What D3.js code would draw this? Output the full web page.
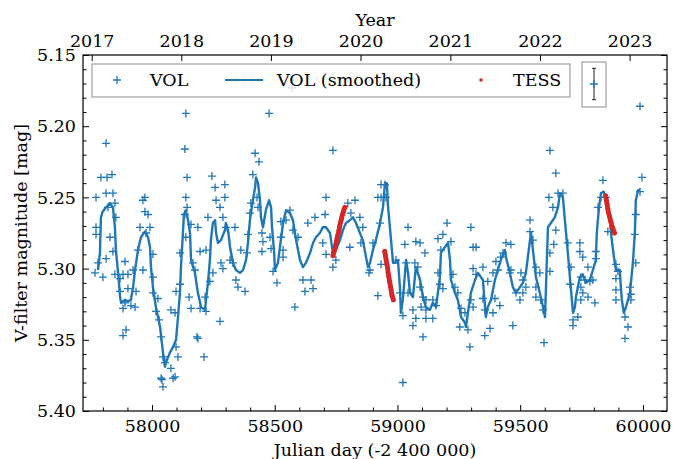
<!DOCTYPE html>
<html>
<head>
<meta charset="utf-8">
<script src="https://cdn.jsdelivr.net/npm/d3@7"></script>
<style>
  body { margin: 0; background: #fff; }
  text { font-family: "DejaVu Serif", serif; fill: #000; }
</style>
</head>
<body>
<div id="chart"></div>
<script>
// VOL observations [Julian day - 2400000, V mag]
const volPoints = [
  [57813,5.212],[57792,5.236],[57817,5.236],[57837,5.234],[57772,5.250],[57813,5.247],[57841,5.247],
  [57849,5.254],[57821,5.257],[57853,5.264],[57772,5.271],[57772,5.276],[57829,5.278],[57841,5.288],
  [57813,5.293],[57780,5.296],[57768,5.303],[57800,5.306],[57849,5.304],[57890,5.295],[57882,5.304],
  [57902,5.304],[57870,5.307],[57923,5.301],[57963,5.301],[57943,5.287],[57951,5.271],[57963,5.252],
  [57971,5.250],[57971,5.260],[57984,5.262],[57992,5.271],[57976,5.275],[58004,5.290],[58004,5.306],
  [57902,5.314],[57935,5.316],[57870,5.316],[57890,5.324],[57914,5.326],[57931,5.327],[57882,5.328],
  [58004,5.317],[58024,5.321],[58016,5.330],[58029,5.336],[58037,5.348],[57894,5.343],[57882,5.347],
  [58045,5.362],[58053,5.366],[58037,5.377],[58045,5.383],[58077,5.329],[58094,5.331],[58098,5.316],
  [58114,5.311],[58098,5.355],[58106,5.362],[58077,5.370],[58094,5.376],[58114,5.289],[58086,5.377],
  [58041,5.378],
  [58138,5.191],[58134,5.216],[58143,5.236],[58138,5.250],[58143,5.257],[58134,5.262],[58159,5.269],
  [58187,5.271],[58138,5.278],[58196,5.288],[58167,5.296],[58175,5.301],[58151,5.320],[58159,5.328],
  [58196,5.328],[58220,5.330],[58216,5.320],[58277,5.337],[58183,5.348],[58187,5.349],[58212,5.362],
  [58244,5.235],[58257,5.243],[58261,5.252],[58277,5.257],[58289,5.264],[58228,5.264],[58297,5.241],
  [58297,5.250],[58301,5.271],[58338,5.271],[58220,5.287],[58248,5.303],[58236,5.309],[58281,5.296],
  [58289,5.300],[58318,5.294],[58330,5.296],[58342,5.308],[58350,5.313],[58379,5.316],[58362,5.287],
  [58387,5.289],[58391,5.276],[58399,5.261],[58403,5.254],[58420,5.219],[58436,5.225],[58411,5.234],
  [58428,5.250],[58432,5.257],[58448,5.275],[58448,5.288],[58452,5.281],[58481,5.278],[58485,5.286],
  [58493,5.302],[58509,5.310],[58477,5.191],[58525,5.267],[58525,5.278],[58534,5.287],
  [58737,5.217],[58709,5.250],[58664,5.264],[58562,5.259],[58546,5.266],[58574,5.273],[58595,5.278],
  [58635,5.268],[58705,5.262],[58696,5.282],[58709,5.290],[58749,5.294],[58737,5.299],[58806,5.285],
  [58615,5.308],[58648,5.308],[58623,5.316],[58656,5.314],[58582,5.327],[58534,5.292],[58798,5.254],
  [58827,5.252],[58810,5.261],[58847,5.264],[58859,5.271],[58851,5.282],[58888,5.301],[58884,5.303],
  [58900,5.282],[58920,5.250],[58933,5.250],[58933,5.241],[58929,5.268],[58920,5.319],[58933,5.297],
  [58570,5.173],
  [58949,5.241],[58953,5.250],[59043,5.271],[59030,5.283],[59075,5.281],[59092,5.282],[59112,5.289],
  [58994,5.294],[59035,5.296],[59071,5.296],[59083,5.299],[59010,5.317],[59043,5.317],[59092,5.313],
  [59104,5.320],[59116,5.322],[59144,5.322],[59157,5.326],[59096,5.327],[59116,5.329],[59063,5.329],
  [59075,5.335],[59063,5.340],[59022,5.333],[59116,5.335],[59144,5.335],[59104,5.348],[59022,5.380],
  [59165,5.279],[59185,5.276],[59202,5.268],[59218,5.281],[59177,5.287],[59165,5.303],[59173,5.311],
  [59185,5.314],[59226,5.304],[59234,5.313],[59246,5.317],[59259,5.328],[59275,5.331],[59254,5.341],
  [59287,5.343],[59295,5.355],[59299,5.271],[59308,5.285],[59320,5.285],[59308,5.300],[59320,5.304],
  [59308,5.327],[59299,5.322],[59348,5.299],
  [59368,5.309],[59348,5.321],[59356,5.329],[59401,5.295],[59389,5.303],[59409,5.301],[59421,5.292],
  [59442,5.282],[59462,5.283],[59430,5.289],[59397,5.321],[59417,5.326],[59389,5.331],[59377,5.342],
  [59356,5.347],[59462,5.301],[59458,5.303],[59483,5.317],[59499,5.322],[59511,5.317],[59503,5.303],
  [59511,5.308],[59523,5.313],[59470,5.340],[59540,5.266],[59540,5.274],[59552,5.280],[59564,5.299],
  [59580,5.303],[59564,5.313],[59564,5.320],[59584,5.322],[59593,5.329],[59597,5.352],[59621,5.217],
  [59645,5.233],[59617,5.250],[59633,5.257],[59645,5.273],[59637,5.283],[59621,5.289],[59621,5.302],
  [59654,5.247],[59674,5.247],[59694,5.282],[59707,5.299],[59703,5.311],[59715,5.336],[59715,5.340],
  [59735,5.334],[59743,5.282],[59743,5.288],[59747,5.306],[59747,5.313],[59747,5.322],
  [59988,5.186],[59996,5.236],[59837,5.238],[59829,5.250],[59849,5.250],[59817,5.257],[59857,5.274],
  [59988,5.246],[59971,5.262],[59967,5.276],[59971,5.296],[59808,5.288],[59808,5.293],[59755,5.292],
  [59776,5.299],[59764,5.308],[59784,5.309],[59796,5.308],[59890,5.297],[59898,5.302],[59890,5.307],
  [59890,5.315],[59890,5.322],[59947,5.313],[59951,5.318],[59951,5.322],[59927,5.334],[59939,5.341],
  [59927,5.349],[59776,5.320],[59804,5.324],[59755,5.317]
];

// smoothed VOL curve
const smoothed = [
  [57780,5.301],[57788,5.289],[57792,5.264],[57799,5.260],[57813,5.257],[57829,5.254],[57841,5.257],
  [57849,5.271],[57853,5.287],[57862,5.303],[57870,5.320],[57874,5.324],[57890,5.322],[57902,5.323],
  [57914,5.322],[57923,5.313],[57931,5.301],[57943,5.287],[57955,5.278],[57971,5.274],[57984,5.278],
  [57992,5.285],[57996,5.299],[58004,5.313],[58016,5.327],[58033,5.341],[58045,5.359],[58053,5.369],
  [58057,5.366],[58073,5.359],[58086,5.355],[58098,5.350],[58106,5.334],[58114,5.317],[58118,5.299],
  [58126,5.275],[58130,5.262],[58138,5.259],[58147,5.266],[58155,5.275],[58159,5.294],[58175,5.303],
  [58187,5.317],[58200,5.327],[58216,5.329],[58220,5.322],[58228,5.310],[58236,5.294],[58240,5.280],
  [58248,5.268],[58257,5.266],[58261,5.275],[58269,5.282],[58281,5.280],[58297,5.273],[58301,5.268],
  [58310,5.273],[58318,5.285],[58330,5.296],[58342,5.301],[58358,5.303],[58371,5.301],[58383,5.294],
  [58391,5.282],[58399,5.266],[58411,5.252],[58420,5.243],[58424,5.236],[58432,5.240],[58440,5.252],
  [58444,5.264],[58452,5.271],[58464,5.259],[58477,5.252],[58485,5.257],[58489,5.271],[58497,5.287],
  [58501,5.301],[58513,5.296],[58525,5.280],[58534,5.268],[58546,5.259],[58562,5.261],[58574,5.266],
  [58587,5.280],[58603,5.294],[58615,5.299],[58627,5.296],[58644,5.289],[58656,5.282],[58668,5.278],
  [58684,5.275],[58696,5.271],[58709,5.271],[58725,5.275],[58737,5.289],[58749,5.287],[58766,5.280],
  [58778,5.273],[58790,5.268],[58806,5.266],[58819,5.264],[58831,5.268],[58847,5.275],[58859,5.280],
  [58872,5.292],[58880,5.299],[58888,5.296],[58900,5.287],[58912,5.280],[58929,5.268],[58941,5.257],
  [58949,5.240],[58957,5.240],[58961,5.255],[58982,5.296],[58990,5.296],[59002,5.294],[59010,5.313],
  [59014,5.331],[59022,5.322],[59035,5.294],[59043,5.303],[59051,5.317],[59063,5.320],[59071,5.306],
  [59075,5.299],[59092,5.308],[59104,5.320],[59116,5.327],[59132,5.329],[59144,5.324],[59157,5.327],
  [59173,5.306],[59177,5.289],[59193,5.285],[59206,5.282],[59214,5.294],[59218,5.308],[59234,5.317],
  [59246,5.322],[59259,5.334],[59275,5.338],[59279,5.341],[59287,5.331],[59299,5.317],[59316,5.308],
  [59328,5.303],[59348,5.308],[59360,5.334],[59368,5.327],[59381,5.322],[59397,5.308],[59409,5.301],
  [59421,5.294],[59438,5.287],[59442,5.292],[59458,5.303],[59470,5.313],[59483,5.317],[59499,5.313],
  [59511,5.310],[59523,5.303],[59540,5.280],[59544,5.275],[59552,5.287],[59564,5.306],[59580,5.317],
  [59593,5.327],[59601,5.334],[59605,5.313],[59613,5.271],[59625,5.268],[59641,5.264],[59654,5.257],
  [59662,5.247],[59674,5.250],[59682,5.266],[59694,5.289],[59707,5.315],[59715,5.331],[59723,5.327],
  [59727,5.320],[59743,5.306],[59755,5.304],[59768,5.310],[59784,5.308],[59796,5.301],[59808,5.294],
  [59812,5.275],[59821,5.257],[59829,5.247],[59841,5.246],[59849,5.252],[59865,5.266],[59873,5.280],
  [59882,5.292],[59890,5.301],[59906,5.301],[59910,5.313],[59914,5.322],[59922,5.331],[59931,5.327],
  [59947,5.317],[59959,5.296],[59967,5.275],[59971,5.252],[59980,5.245],[59988,5.245]
];

// TESS sectors
const tessA = [
  [58737,5.291],[58740,5.289],[58744,5.287],[58748,5.284],[58751,5.281],[58755,5.278],[58758,5.276],
  [58762,5.273],[58765,5.270],[58769,5.267],[58772,5.265],[58776,5.262],[58780,5.260],[58783,5.258],[58786,5.257]
];
const tessB = [
  [58948,5.288],[58951,5.291],[58954,5.294],[58957,5.297],[58960,5.300],[58962,5.303],[58965,5.306],
  [58968,5.309],[58971,5.312],[58974,5.315],[58977,5.318],[58980,5.320],[58983,5.322]
];
const tessC = [
  [59848,5.249],[59851,5.252],[59854,5.255],[59857,5.258],[59860,5.261],[59863,5.263],[59866,5.265],
  [59869,5.267],[59872,5.269],[59875,5.271],[59878,5.272],[59881,5.274],[59884,5.275]
];

const dayTicks = [58000, 58500, 59000, 59500, 60000];
const magTicks = [5.15, 5.20, 5.25, 5.30, 5.35, 5.40];
const yearLabels = ["2017", "2018", "2019", "2020", "2021", "2022", "2023"];
const yearDays = [57754.5, 58119.5, 58484.5, 58849.5, 59215.5, 59580.5, 59945.5];
const typicalError = 0.011;

const width = 673, height = 459;
const margin = {top: 55, right: 6, bottom: 48, left: 83};
const blue = "#1f77b4", red = "#d62728";
const fontSize = "17.5px";

const svg = d3.select("#chart").append("svg")
  .attr("width", width)
  .attr("height", height);

const x = d3.scaleLinear().domain([57719, 60098]).range([margin.left, width - margin.right]);
const y = d3.scaleLinear().domain([5.15, 5.40]).range([margin.top, height - margin.bottom]);

const minorDays = d3.range(57800, 60100, 100).filter(d => d % 500 !== 0);
const minorMags = d3.range(5.16, 5.40, 0.01).filter(d => Math.round(d * 100) % 5 !== 0);

const plusPath = "M-4,0H4M0,-4V4";

// data
const plot = svg.append("g");

plot.selectAll(".vol")
  .data(volPoints)
  .enter()
  .append("path")
  .attr("class", "vol")
  .attr("d", plusPath)
  .attr("transform", d => `translate(${x(d[0])},${y(d[1])})`)
  .attr("stroke", blue)
  .attr("stroke-width", 1.3)
  .attr("fill", "none");

const line = d3.line().x(d => x(d[0])).y(d => y(d[1]));

plot.append("path")
  .datum(smoothed)
  .attr("d", line)
  .attr("fill", "none")
  .attr("stroke", blue)
  .attr("stroke-width", 2.4)
  .attr("stroke-linejoin", "round");

[tessA, tessB, tessC].forEach(seg => {
  plot.append("path")
    .datum(seg)
    .attr("d", line)
    .attr("fill", "none")
    .attr("stroke", red)
    .attr("stroke-width", 4.8)
    .attr("stroke-linecap", "round");
  plot.selectAll(null)
    .data(seg)
    .enter()
    .append("circle")
    .attr("cx", d => x(d[0]))
    .attr("cy", d => y(d[1]))
    .attr("r", 2.4)
    .attr("fill", red);
});

// axes
function styleAxis(g) {
  g.attr("font-family", null).attr("font-size", null);
  g.select(".domain").remove();
  g.selectAll(".tick line").attr("stroke", "#000").attr("stroke-width", 1);
  g.selectAll(".tick text").style("font-family", "DejaVu Serif").style("font-size", fontSize);
}

const H = height - margin.bottom, W = width - margin.right;

svg.append("g").attr("transform", `translate(0,${H})`)
  .call(d3.axisBottom(x).tickValues(dayTicks).tickSize(-6).tickSizeOuter(0).tickPadding(9).tickFormat(d3.format("d")))
  .call(styleAxis);
svg.append("g").attr("transform", `translate(0,${H})`)
  .call(d3.axisBottom(x).tickValues(minorDays).tickSize(-3.5).tickSizeOuter(0).tickFormat(""))
  .call(styleAxis);

svg.append("g").attr("transform", `translate(${margin.left},0)`)
  .call(d3.axisLeft(y).tickValues(magTicks).tickSize(-6).tickSizeOuter(0).tickPadding(7).tickFormat(d3.format(".2f")))
  .call(styleAxis);
svg.append("g").attr("transform", `translate(${margin.left},0)`)
  .call(d3.axisLeft(y).tickValues(minorMags).tickSize(-3.5).tickSizeOuter(0).tickFormat(""))
  .call(styleAxis);

svg.append("g").attr("transform", `translate(${W},0)`)
  .call(d3.axisRight(y).tickValues(magTicks).tickSize(-6).tickSizeOuter(0).tickFormat(""))
  .call(styleAxis);
svg.append("g").attr("transform", `translate(${W},0)`)
  .call(d3.axisRight(y).tickValues(minorMags).tickSize(-3.5).tickSizeOuter(0).tickFormat(""))
  .call(styleAxis);

svg.append("g").attr("transform", `translate(0,${margin.top})`)
  .call(d3.axisTop(x).tickValues(yearDays).tickSize(-6).tickSizeOuter(0).tickPadding(8)
    .tickFormat((d, i) => yearLabels[i]))
  .call(styleAxis);

svg.append("rect")
  .attr("x", margin.left)
  .attr("y", margin.top)
  .attr("width", W - margin.left)
  .attr("height", H - margin.top)
  .attr("fill", "none")
  .attr("stroke", "#000")
  .attr("stroke-width", 1.2);

// labels
svg.append("text")
  .attr("x", (margin.left + W) / 2)
  .attr("y", 456)
  .attr("text-anchor", "middle")
  .style("font-size", fontSize)
  .text("Julian day (-2 400 000)");

svg.append("text")
  .attr("x", (margin.left + W) / 2)
  .attr("y", 26)
  .attr("text-anchor", "middle")
  .style("font-size", fontSize)
  .text("Year");

svg.append("text")
  .attr("transform", `translate(27,${(margin.top + H) / 2}) rotate(-90)`)
  .attr("text-anchor", "middle")
  .style("font-size", fontSize)
  .text("V-filter magnitude [mag]");

// legend
const legend = svg.append("g");
legend.append("rect")
  .attr("x", 92).attr("y", 64).attr("width", 478).attr("height", 33)
  .attr("fill", "#fff").attr("fill-opacity", 0.8)
  .attr("stroke", "#a0a0a0").attr("stroke-width", 1.2);
legend.append("path")
  .attr("d", plusPath)
  .attr("transform", "translate(117,80)")
  .attr("stroke", blue).attr("stroke-width", 1.3);
legend.append("text").attr("x", 150).attr("y", 86).style("font-size", fontSize).text("VOL");
legend.append("line")
  .attr("x1", 225).attr("x2", 263).attr("y1", 80).attr("y2", 80)
  .attr("stroke", blue).attr("stroke-width", 2.2);
legend.append("text").attr("x", 277).attr("y", 86).style("font-size", fontSize).text("VOL (smoothed)");
legend.append("circle").attr("cx", 481).attr("cy", 80).attr("r", 1.8).attr("fill", red);
legend.append("text").attr("x", 513).attr("y", 86).style("font-size", fontSize).text("TESS");

// typical error bar
const errLen = y(5.15 + typicalError) - y(5.15);
const eb = svg.append("g").attr("transform", "translate(594,84)");
eb.append("rect")
  .attr("x", -12).attr("y", -22).attr("width", 24).attr("height", 45)
  .attr("fill", "#fff").attr("fill-opacity", 0.8)
  .attr("stroke", "#a0a0a0").attr("stroke-width", 1.2);
eb.append("line").attr("y1", -errLen).attr("y2", errLen).attr("stroke", "#222").attr("stroke-width", 1);
eb.append("line").attr("x1", -2).attr("x2", 2).attr("y1", -errLen).attr("y2", -errLen).attr("stroke", "#222");
eb.append("line").attr("x1", -2).attr("x2", 2).attr("y1", errLen).attr("y2", errLen).attr("stroke", "#222");
eb.append("path").attr("d", plusPath).attr("stroke", blue).attr("stroke-width", 1.3);
</script>
</body>
</html>
